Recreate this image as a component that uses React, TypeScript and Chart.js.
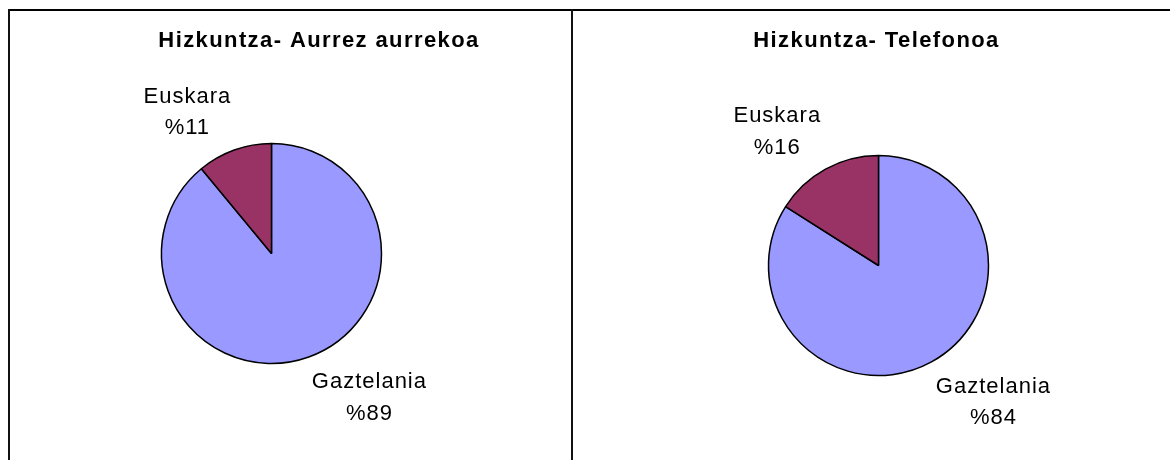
import React, { useEffect, useRef } from "react";
import { Chart, registerables } from "chart.js";

Chart.register(...registerables);

const categories = ["Gaztelania", "Euskara"];
const aurrezValues = [89, 11];
const telefonoValues = [84, 16];
const titles = ["Hizkuntza- Aurrez aurrekoa", "Hizkuntza- Telefonoa"];
const sliceColors = ["#9999FF", "#993366"];

type PanelProps = {
  title: string;
  values: number[];
  left: number;
  width: number;
  padding: { left: number; right: number; top: number; bottom: number };
  titleX: number;
};

const FONT = '"Liberation Sans", Arial, sans-serif';

const labelPlugin = {
  id: "pieLabels",
  afterDatasetsDraw(chart: any) {
    const ctx = chart.ctx;
    const meta = chart.getDatasetMeta(0);
    const ds = chart.data.datasets[0];
    ctx.save();
    ctx.fillStyle = "#000";
    ctx.font = `22px ${FONT}`;
    (ctx as any).letterSpacing = "1px";
    ctx.textAlign = "center";
    ctx.textBaseline = "alphabetic";
    meta.data.forEach((arc: any, i: number) => {
      const p = arc.getProps(["x", "y", "startAngle", "endAngle", "outerRadius"], true);
      const mid = (p.startAngle + p.endAngle) / 2;
      const dx = Math.cos(mid);
      const dy = Math.sin(mid);
      const lines = [String(chart.data.labels[i]), "%" + ds.data[i]];
      const w = Math.max(...lines.map((l) => ctx.measureText(l).width));
      const ax = p.x + (p.outerRadius + 9) * dx;
      const ay = p.y + (p.outerRadius + 9) * dy;
      const cx = ax + Math.sign(dx) * w / 2;
      const cy = ay + Math.sign(dy) * 31;
      ctx.fillText(lines[0], cx, cy - 8.0);
      ctx.fillText(lines[1], cx, cy + 23.5);
    });
    ctx.restore();
  },
};

const titlePlugin = {
  id: "panelTitle",
  afterDraw(chart: any) {
    const opts = chart.options.plugins.panelTitle;
    const ctx = chart.ctx;
    ctx.save();
    ctx.fillStyle = "#000";
    ctx.font = `bold 22px ${FONT}`;
    (ctx as any).letterSpacing = "1.4px";
    ctx.textAlign = "center";
    ctx.textBaseline = "alphabetic";
    ctx.fillText(opts.text, opts.x, opts.y);
    ctx.restore();
  },
};

function Panel({ title, values, left, width, padding, titleX }: PanelProps) {
  const ref = useRef<HTMLCanvasElement>(null);
  useEffect(() => {
    if (!ref.current) return;
    const chart = new Chart(ref.current, {
      type: "pie",
      data: {
        labels: categories,
        datasets: [
          {
            data: values,
            backgroundColor: sliceColors,
            borderColor: "#000000",
            borderWidth: 1.5,
            radius: 110,
          } as any,
        ],
      },
      options: {
        animation: false,
        responsive: false,
        events: [],
        layout: { padding },
        plugins: {
          legend: { display: false },
          tooltip: { enabled: false },
          title: { display: false },
          panelTitle: { text: title, x: titleX, y: 36 },
        } as any,
      },
      plugins: [labelPlugin, titlePlugin],
    });
    return () => chart.destroy();
  }, []);
  return (
    <canvas
      ref={ref}
      width={width}
      height={449}
      style={{ position: "absolute", left, top: 11, width, height: 449 }}
    />
  );
}

export default function App() {
  return (
    <div
      style={{
        position: "absolute",
        left: 0,
        top: 0,
        width: 1170,
        height: 460,
        background: "#fff",
        overflow: "hidden",
      }}
    >
      <div style={{ position: "absolute", left: 8, top: 9, width: 1162, height: 2, background: "#000" }} />
      <div style={{ position: "absolute", left: 8, top: 9, width: 2, height: 451, background: "#111" }} />
      <div style={{ position: "absolute", left: 571, top: 9, width: 2, height: 451, background: "#111" }} />
      <Panel
        title={titles[0]}
        values={aurrezValues}
        left={10}
        width={561}
        padding={{ left: 150, right: 188, top: 131, bottom: 95 }}
        titleX={309}
      />
      <Panel
        title={titles[1]}
        values={telefonoValues}
        left={573}
        width={597}
        padding={{ left: 194, right: 180, top: 143, bottom: 83 }}
        titleX={303.5}
      />
    </div>
  );
}
